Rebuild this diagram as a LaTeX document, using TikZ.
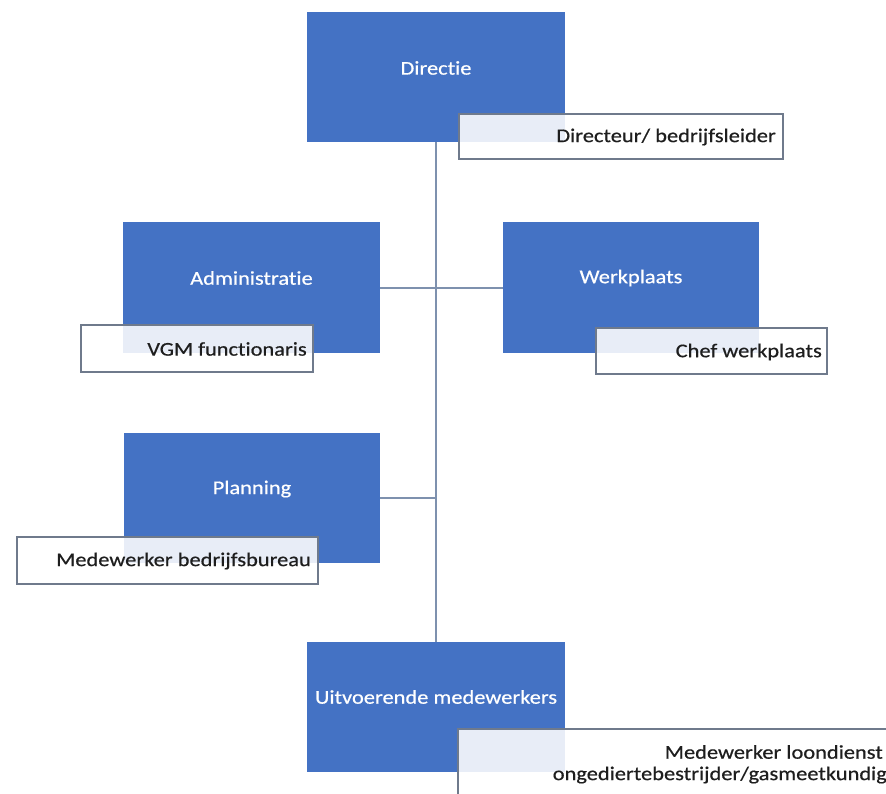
\documentclass[tikz,border=0pt]{standalone}
\usepackage{fontspec}
\setmainfont{Carlito}[FakeStretch=1.15, FakeBold=0.5, Ligatures=NoCommon]
\definecolor{boxblue}{HTML}{4472C4}
\definecolor{linecol}{HTML}{7E91AE}
\definecolor{labedge}{HTML}{6F7A8C}
\definecolor{labtext}{HTML}{1E1E1E}
\tikzset{
  unitbox/.style={draw=none, fill=boxblue, rectangle, inner sep=0pt},
  unittext/.style={text=white, font=\fontsize{19.5}{23}\selectfont, inner sep=0pt},
  labbox/.style={draw=labedge, line width=1.2pt, fill=white, fill opacity=0.88, rectangle, inner sep=0pt},
  labtxt/.style={text=labtext, font=\fontsize{19.5}{23}\selectfont, inner sep=0pt, anchor=east, align=right},
  conn/.style={draw=linecol, line width=2pt}
}
\begin{document}
\begin{tikzpicture}[x=1pt,y=-1pt]
\useasboundingbox (0,0) rectangle (886,793);
\clip (0,0) rectangle (886,793);
\fill[white] (0,0) rectangle (886,793);
% unit boxes
\node[unitbox, minimum width=258, minimum height=130] (dir) at (436,77) {};
\node[unitbox, minimum width=257, minimum height=131] (adm) at (251.5,287.5) {};
\node[unitbox, minimum width=256, minimum height=131] (wrk) at (631,287.5) {};
\node[unitbox, minimum width=256, minimum height=130] (pln) at (252,498) {};
\node[unitbox, minimum width=258, minimum height=130] (uit) at (436,707) {};
% connectors
\draw[conn] (dir.south) -- (uit.north);
\draw[conn] (adm.east) -- (wrk.west);
\draw[conn] (pln.east) -- (pln.east -| dir.south);
% unit texts
\node[unittext] (dirt) at (436,68) {Directie};
\node[unittext] (admt) at (251.5,278) {Administratie};
\node[unittext] (wrkt) at (631,278) {Werkplaats};
\node[unittext] (plnt) at (252,489) {Planning};
\node[unittext] (uitt) at (436,697) {Uitvoerende medewerkers};
% role labels
\node[labbox, minimum width=324, minimum height=45] (dirl) at (621,136.5) {};
\node[labtxt] (dirlt) at (776,137) {Directeur/ bedrijfsleider};
\node[labbox, minimum width=232, minimum height=47] (adml) at (197,348.5) {};
\node[labtxt] (admlt) at (307,349) {VGM functionaris};
\node[labbox, minimum width=231, minimum height=46] (wrkl) at (711.5,351) {};
\node[labtxt] (wrklt) at (822,352) {Chef werkplaats};
\node[labbox, minimum width=301, minimum height=47] (plnl) at (167.5,560.5) {};
\node[labtxt] (plnlt) at (311,561) {Medewerker bedrijfsbureau};
\node[labbox, minimum width=450, minimum height=90] (uitl) at (683,774) {};
\node[labtxt] (uitlt1) at (883,752) {Medewerker loondienst};
\node[labtxt] (uitlt2) at (887,775) {ongediertebestrijder/gasmeetkundig};
\end{tikzpicture}
\end{document}
